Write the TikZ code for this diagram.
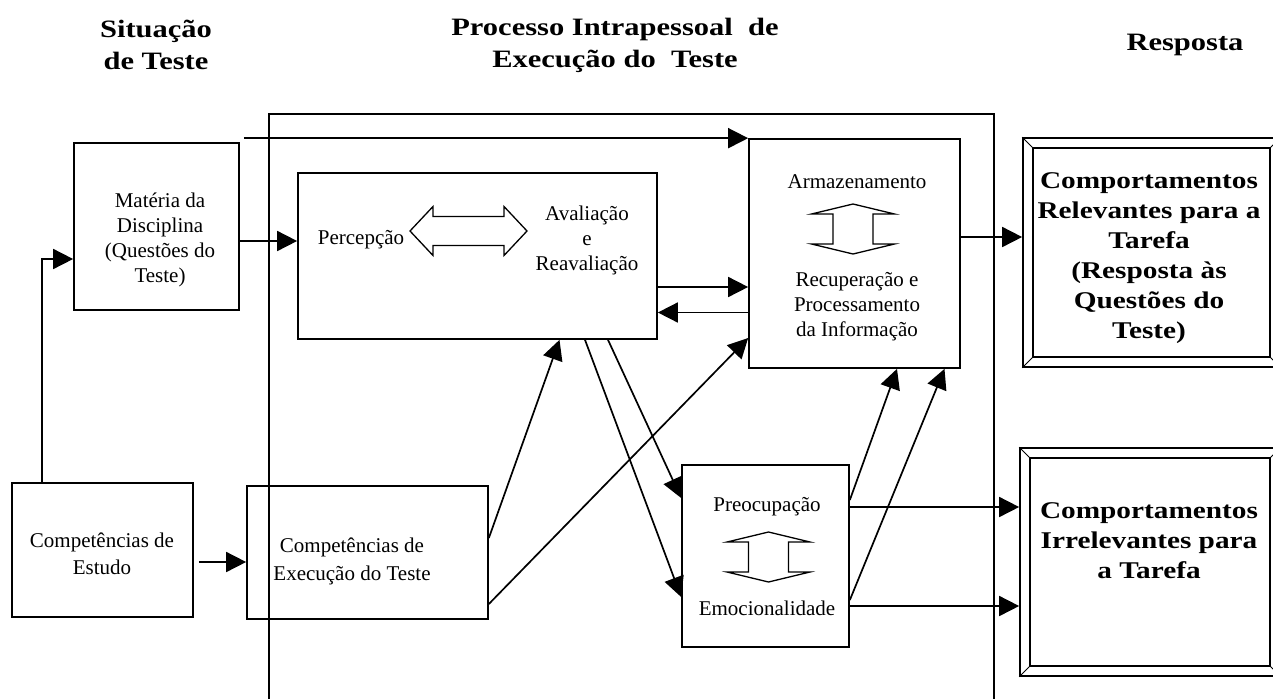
\documentclass[tikz,border=0pt]{standalone}
\usepackage{fontspec}
\setmainfont{Liberation Serif}
\newfontfamily\wideserif{Liberation Serif}[FakeStretch=1.22]
\usetikzlibrary{arrows.meta}

\begin{document}
\begin{tikzpicture}[x=1pt, y=-1pt, line width=1.7pt,
  box/.style={draw, inner sep=0pt},
  txt/.style={inner sep=0pt, align=center, font=\fontsize{21}{25}\selectfont},
  bold/.style={inner sep=0pt, align=center, font=\wideserif\bfseries\fontsize{24}{30}\selectfont},
  title/.style={inner sep=0pt, align=center, font=\wideserif\bfseries\fontsize{25}{32}\selectfont},
  arr/.style={-{Triangle[length=20pt,width=20pt]}}]

\useasboundingbox (0,0) rectangle (1273,699);

% titles
\node[title] (sit) at (156,45) {Situação\\de Teste};
\node[title] (proc) at (615,45) {Processo Intrapessoal\ \ de\\Execução do\ \ Teste};
\node[title] (resp) at (1185,45) {Resposta};

% frame round the intrapersonal process
\draw (269,699) -- (269,114) -- (994,114) -- (994,699);

% boxes
\node[box, minimum width=165, minimum height=167] (mat) at (156.5,226.5) {};
\node[box, minimum width=181, minimum height=134] (cest) at (102.5,550) {};
\node[box, minimum width=241, minimum height=133] (cexec) at (367.5,552.5) {};
\node[box, minimum width=359, minimum height=166] (perc) at (477.5,256) {};
\node[box, minimum width=211, minimum height=229] (arm) at (854.5,253.5) {};
\node[box, minimum width=167, minimum height=182] (preoc) at (765.5,556) {};
\node[box, minimum width=257, minimum height=229] (resp1) at (1151.5,252.5) {};
\node[box, minimum width=260, minimum height=228] (resp2) at (1150,562) {};

% bevelled frames of the answers
\foreach \b in {resp1,resp2}{
  \draw ([shift={(11pt,-11pt)}]\b.north west) rectangle ([shift={(-11pt,11pt)}]\b.south east);
  \draw[line width=.9pt] (\b.north west) -- ++(11pt,-11pt) (\b.north east) -- ++(-11pt,-11pt)
        (\b.south east) -- ++(-11pt,11pt) (\b.south west) -- ++(11pt,11pt);
}

% texts
\node[txt] (matt) at (160,240) {Matéria da\\Disciplina\\(Questões do\\Teste)};
\node[txt] (perct) at (361,240) {Percepção};
\node[txt] (avalt) at (587,240) {Avaliação\\e\\Reavaliação};
\node[txt] (armt) at (857,182) {Armazenamento};
\node[txt] (recupt) at (857,307) {Recuperação e\\Processamento\\da Informação};
\node[txt] (preoct) at (767,507) {Preocupação};
\node[txt] (emoct) at (767,608) {Emocionalidade};
\node[txt, font=\fontsize{21}{27.5}\selectfont] (cestt) at (102,554) {Competências de\\Estudo};
\node[txt, font=\fontsize{21}{27.5}\selectfont] (cexect) at (352,561.5) {Competências de\\Execução do Teste};
\node[bold] (resp1t) at (1149,258) {Comportamentos\\Relevantes para a\\Tarefa\\(Resposta às\\Questões do\\Teste)};
\node[bold] (resp2t) at (1149,541) {Comportamentos\\Irrelevantes para\\a Tarefa};

% hollow double arrows
\draw[line width=1.3pt] (410,231) -- (433,206.5) -- (433,216.5) -- (504,216.5) -- (504,206.5) -- (527,231)
  -- (504,255.5) -- (504,245.5) -- (433,245.5) -- (433,255.5) -- cycle;
\foreach \cx/\cy in {853/229, 768.5/557}
  \draw[line width=1.3pt, shift={(\cx,\cy)}] (0,-25) -- (41.5,-15) -- (20,-15) -- (20,15) -- (41.5,15) -- (0,25)
    -- (-41.5,15) -- (-20,15) -- (-20,-15) -- (-41.5,-15) -- cycle;

% connectors
\coordinate (mattop) at ([xshift=4pt]mat.north east);
\coordinate (m1) at ([yshift=-14.5pt]mat.east);
\coordinate (e1) at ([shift={(5pt,-12pt)}]cest.east);
\coordinate (p1) at ([yshift=-31pt]perc.east);
\coordinate (p2) at ([yshift=-56.5pt]perc.east);
\coordinate (a1) at ([yshift=16.5pt]arm.east);
\coordinate (q1) at ([yshift=49pt]preoc.east);
\coordinate (q2) at ([yshift=-50pt]preoc.east);

\draw[arr] ([xshift=31pt]cest.north west) |- ([yshift=-32.5pt]mat.west);
\draw[arr] (m1) -- (m1 -| perc.west);
\draw[arr] (mattop |- arm.north) -- (arm.north west);
\draw[arr] (p1) -- (p1 -| arm.west);
\draw[arr] (p2 -| arm.west) -- (p2);
\draw[arr] (e1) -- (e1 -| cexec.west);
\draw[arr] ([yshift=14.5pt]cexec.east) -- ([xshift=82pt]perc.south);
\draw[arr] ([yshift=-51.5pt]cexec.east) -- ([yshift=-84.5pt]arm.west);
\draw[arr] ([xshift=130.5pt]perc.south) -- ([yshift=58pt]preoc.west);
\draw[arr] ([xshift=107.5pt]perc.south) -- ([yshift=-41pt]preoc.west);
\draw[arr] ([yshift=56pt]preoc.east) -- ([xshift=42.5pt]arm.south);
\draw[arr] ([yshift=-44pt]preoc.east) -- ([xshift=90pt]arm.south);
\draw[arr] (a1) -- (a1 -| resp1.west);
\draw[arr] (q1) -- (q1 -| resp2.west);
\draw[arr] (q2) -- (q2 -| resp2.west);
\end{tikzpicture}
\end{document}
